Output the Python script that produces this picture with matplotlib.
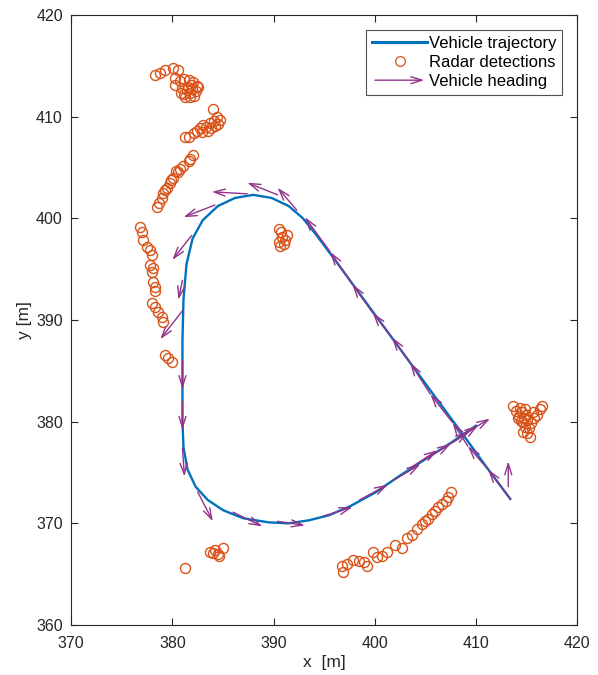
#!/usr/bin/env python3
"""Vehicle trajectory with radar detections and heading arrows."""

import matplotlib

matplotlib.use("Agg")
import matplotlib.pyplot as plt
from matplotlib.legend_handler import HandlerPatch
from matplotlib.lines import Line2D
from matplotlib.patches import FancyArrowPatch

# vehicle trajectory [m]
traj_x = [413.4, 411.0, 408.6, 406.0, 403.5, 401.0, 398.5, 396.0, 394.2, 392.9,
          391.5, 389.8, 388.0, 386.2, 384.5, 383.0, 382.0, 381.4, 381.1, 381.0,
          381.0, 381.0, 381.1, 381.5, 382.3, 383.5, 385.0, 387.0, 389.5, 391.5,
          393.5, 395.5, 397.6, 400.0, 402.5, 405.0, 407.5, 410.0]
traj_y = [372.4, 375.6, 378.9, 382.4, 385.8, 389.2, 392.6, 396.0, 398.4, 400.0,
          401.2, 402.0, 402.3, 402.0, 401.2, 399.8, 398.0, 395.5, 392.0, 388.0,
          384.0, 380.0, 377.5, 375.3, 373.6, 372.3, 371.3, 370.5, 370.1, 370.0,
          370.3, 370.8, 371.7, 373.0, 374.7, 376.3, 377.9, 379.6]

# heading arrows: tail and tip [m]
head_x0 = [413.2, 413.4, 411.2, 409.2, 407.7, 405.5, 403.5, 401.7, 399.8, 397.8,
           395.6, 392.3, 390.4, 387.4, 384.2, 381.9, 381.0, 381.0, 381.0, 381.0,
           381.0, 382.5, 386.0, 390.4, 394.9, 398.5, 401.8, 403.6, 404.8, 406.8,
           407.8, 408.8]
head_y0 = [373.6, 372.4, 375.3, 377.6, 379.9, 382.7, 385.8, 388.3, 390.7, 393.5,
           396.7, 400.8, 402.3, 402.4, 401.3, 398.3, 393.9, 390.9, 386.0, 382.0,
           377.4, 373.1, 371.1, 370.2, 370.7, 372.3, 374.2, 375.5, 376.2, 377.4,
           378.0, 378.8]
head_x1 = [413.2, 411.2, 409.2, 407.7, 405.5, 403.5, 401.7, 399.8, 397.8, 395.6,
           393.1, 390.4, 387.4, 383.9, 381.1, 380.0, 380.6, 378.8, 381.0, 381.0,
           381.2, 384.0, 388.9, 393.1, 397.8, 401.3, 404.5, 406.2, 407.5, 409.3,
           410.2, 411.4]
head_y1 = [376.1, 375.3, 377.6, 379.9, 382.7, 385.8, 388.3, 390.7, 393.5, 396.7,
           400.1, 403.0, 403.5, 402.6, 400.1, 395.9, 392.0, 388.1, 383.2, 379.2,
           374.6, 370.2, 369.7, 369.8, 371.6, 373.8, 375.8, 377.2, 377.8, 379.0,
           379.6, 380.3]

# radar detections [m]
det_x = [
    # top-left blob
    378.3, 378.8, 379.3, 380.1, 380.6, 380.3, 380.3, 380.8, 381.2, 381.6, 382.0,
    382.4, 381.0, 381.5, 381.9, 382.3, 381.2, 381.7, 382.1, 380.9, 381.4, 381.8,
    382.5, 381.3, 381.7,
    # second blob
    384.0, 384.4, 384.7, 384.5, 384.1, 383.7, 383.3, 383.0, 382.7, 382.4, 382.1,
    381.6, 381.3, 383.8, 384.2, 383.5, 382.9,
    # diagonal strip
    382.0, 381.7, 381.6, 381.1, 380.8, 380.6, 380.1, 379.9, 379.8, 379.5, 379.3,
    379.1, 379.0, 378.7, 378.5, 380.4,
    # left strip
    376.8, 377.0, 377.1, 377.5, 377.8, 378.0, 377.8, 378.1, 378.0, 378.1, 378.3,
    378.3, 378.0, 378.3, 378.6, 379.0, 379.1, 379.3, 379.6, 380.0,
    # centre cluster
    390.5, 390.8, 391.1, 390.5, 391.3, 390.7, 391.0, 390.6,
    # bottom-left
    381.3, 383.7, 384.2, 384.5, 385.0, 384.0, 384.6,
    # bottom strip
    396.8, 396.9, 397.3, 397.9, 398.4, 398.9, 399.2, 399.8, 400.2, 400.7, 401.2,
    402.0, 402.7, 403.2, 403.7, 404.2, 404.7, 405.0, 405.3, 405.7, 406.0, 406.3,
    406.7, 407.0, 407.2, 407.5,
    # right cluster
    414.0, 414.3, 414.6, 414.8, 414.5, 414.2, 414.9, 415.0, 414.4, 414.7, 415.1,
    413.7, 416.5, 416.3, 416.0, 415.7, 415.4, 415.2, 415.1, 414.7, 415.3, 414.9,
    415.6,
]
det_y = [
    414.1, 414.3, 414.6, 414.8, 414.6, 413.8, 413.1, 413.5, 413.7, 413.6, 413.4,
    413.0, 412.8, 412.9, 412.7, 412.5, 412.2, 412.3, 412.0, 412.3, 412.6, 413.1,
    412.9, 411.9, 411.9,
    410.7, 410.0, 409.7, 409.3, 409.6, 409.4, 409.0, 409.2, 408.9, 408.6, 408.4,
    408.0, 408.0, 408.9, 409.1, 408.6, 408.5,
    406.2, 405.8, 405.6, 405.1, 404.8, 404.5, 404.0, 403.8, 403.5, 403.0, 402.8,
    402.5, 402.0, 401.5, 401.1, 404.6,
    399.1, 398.6, 397.9, 397.2, 396.9, 396.4, 395.4, 395.1, 394.7, 393.7, 393.2,
    392.8, 391.7, 391.3, 390.8, 390.3, 389.8, 386.6, 386.3, 385.9,
    398.9, 398.2, 397.9, 397.7, 398.4, 398.6, 397.5, 397.3,
    365.6, 367.2, 367.4, 367.0, 367.6, 367.1, 366.8,
    365.8, 365.2, 366.0, 366.4, 366.3, 366.2, 365.8, 367.2, 366.7, 366.8, 367.2,
    367.9, 367.6, 368.6, 368.9, 369.4, 369.9, 370.2, 370.4, 370.9, 371.2, 371.6,
    371.9, 372.2, 372.6, 373.1,
    381.0, 380.6, 380.9, 380.4, 380.1, 380.4, 381.2, 380.7, 381.3, 380.0, 380.2,
    381.5, 381.5, 381.2, 380.7, 380.4, 379.9, 379.4, 378.9, 379.0, 378.5, 379.5,
    380.9,
]

BLUE = "#0072BD"
ORANGE = "#D95319"
PURPLE = "#93328A"
AX_GRAY = "#262626"


def arrow_handle(legend, orig_handle, xdescent, ydescent, width, height, fontsize):
    y = height / 2 - ydescent
    return FancyArrowPatch((-xdescent, y), (width - xdescent, y),
                           arrowstyle="->,head_length=0.8,head_width=0.25",
                           mutation_scale=10, color=PURPLE, lw=0.9)


def main() -> int:
    plt.rcParams["font.family"] = ["Liberation Sans", "DejaVu Sans"]
    fig = plt.figure(figsize=(5.98, 6.75), dpi=100)
    ax = fig.add_axes([0.119, 0.074, 0.846, 0.904])

    ax.plot(traj_x, traj_y, color=BLUE, lw=1.7, zorder=2)
    ax.plot(det_x, det_y, "o", mfc="none", mec=ORANGE, ms=7.2, mew=1.0,
            linestyle="none", zorder=3)

    for x0, y0, x1, y1 in zip(head_x0, head_y0, head_x1, head_y1):
        ax.annotate("", xy=(x1, y1), xytext=(x0, y0),
                    arrowprops=dict(arrowstyle="->,head_length=0.8,head_width=0.25",
                                    mutation_scale=10, color=PURPLE, lw=1.0,
                                    shrinkA=0, shrinkB=0),
                    zorder=4)

    ax.set_xlim(370, 420)
    ax.set_ylim(360, 420)
    ax.set_xticks(range(370, 421, 10))
    ax.set_yticks(range(360, 421, 10))
    ax.tick_params(direction="in", length=5, width=0.8, top=True, right=True,
                   labelsize=11.5, colors=AX_GRAY)
    ax.tick_params(axis="x", pad=8)
    ax.tick_params(axis="y", pad=6)
    for s in ax.spines.values():
        s.set_color(AX_GRAY)
        s.set_linewidth(0.8)
    ax.set_xlabel("x  [m]", fontsize=12.5, color=AX_GRAY, labelpad=3)
    ax.set_ylabel("y [m]", fontsize=12.5, color=AX_GRAY, labelpad=3)

    h_traj = Line2D([], [], color=BLUE, lw=2.2)
    h_det = Line2D([], [], marker="o", mfc="none", mec=ORANGE, ms=7,
                   mew=0.9, linestyle="none")
    h_head = FancyArrowPatch((0, 0), (1, 0), color=PURPLE)
    leg = ax.legend([h_traj, h_det, h_head],
                    ["Vehicle trajectory", "Radar detections", "Vehicle heading"],
                    loc="upper right", fontsize=12, frameon=True, fancybox=False,
                    handlelength=3.3, handletextpad=0.1, borderpad=0.35,
                    labelspacing=0.25, borderaxespad=0.9,
                    handler_map={FancyArrowPatch: HandlerPatch(patch_func=arrow_handle)})
    leg.get_frame().set_edgecolor(AX_GRAY)
    leg.get_frame().set_linewidth(0.8)

    fig.savefig("out.png", dpi=100)
    plt.close(fig)
    return 0


if __name__ == "__main__":
    raise SystemExit(main())
